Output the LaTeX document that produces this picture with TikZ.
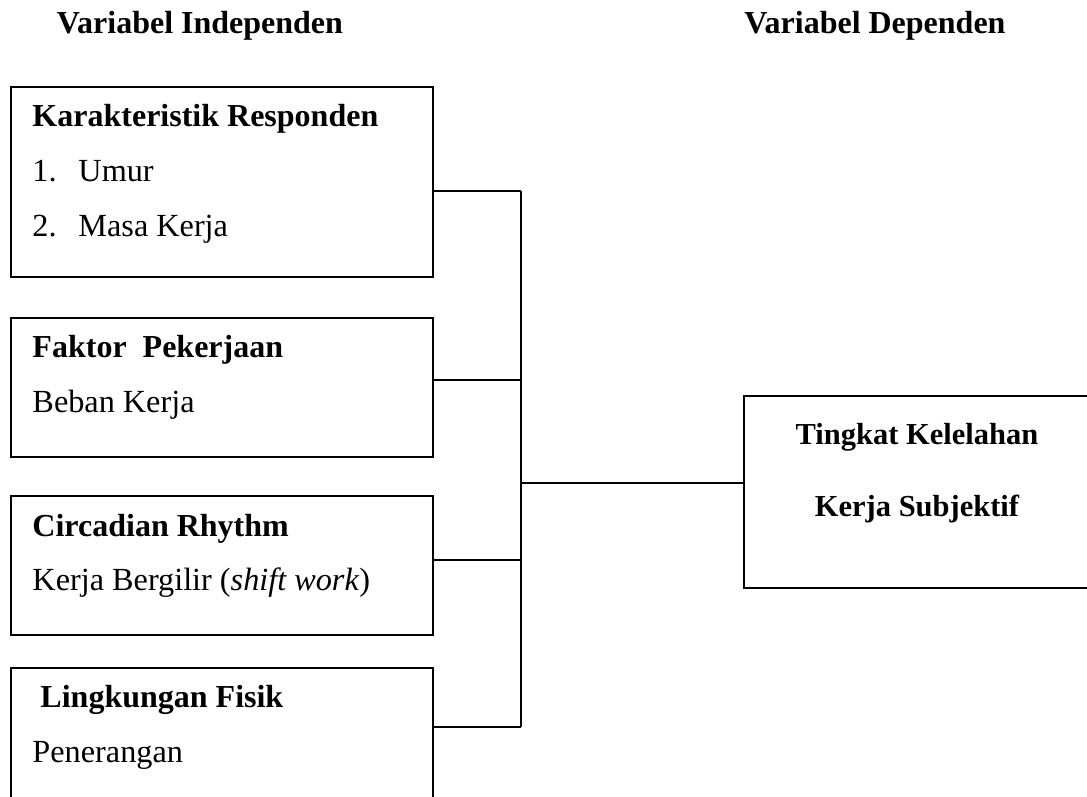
\documentclass[tikz,border=0pt]{standalone}
\usepackage{fontspec}
\setmainfont{Liberation Serif}
\usetikzlibrary{positioning, calc}

\begin{document}
\begin{tikzpicture}[
    x=0.4pt, y=-0.4pt,
    box/.style={
        rectangle,
        draw=black,
        line width=0.8pt,
        minimum width=168.8pt,
        anchor=north west,
        inner sep=0pt
    },
    head/.style={
        font=\fontsize{12.8}{15}\selectfont\bfseries,
        inner sep=0pt,
        anchor=base west
    },
    item/.style={
        font=\fontsize{12.9}{15}\selectfont,
        inner sep=0pt,
        anchor=base west
    },
    line/.style={
        draw=black,
        line width=0.8pt
    }
]
\useasboundingbox (0,0) rectangle (1087,796);
\clip (0,0) rectangle (1087,796);

% Titles
\node[head, anchor=base] (hd-indep) at (200,33) {Variabel Independen};
\node[head, anchor=base] (hd-dep) at (875,33) {Variabel Dependen};

% Independent boxes
\node[box, minimum height=76pt] (resp) at (10,86) {};
\node[box, minimum height=55.6pt] (kerja) at (10,317) {};
\node[box, minimum height=55.6pt] (ritme) at (10,495) {};
\node[box, minimum height=56pt] (fisik) at (10,667) {};

% Box texts
\node[head] (resp-t) at ($(resp.north west)+(22,40)$) {Karakteristik Responden};
\node[item] (resp-a) at ($(resp-t.base west)+(0,55)$) {\makebox[18.4pt][l]{1.}Umur};
\node[item] (resp-b) at ($(resp-a.base west)+(0,55)$) {\makebox[18.4pt][l]{2.}Masa Kerja};

\node[head] (kerja-t) at ($(kerja.north west)+(22,40)$) {Faktor\ \ Pekerjaan};
\node[item] (kerja-a) at ($(kerja-t.base west)+(0,55)$) {Beban Kerja};

\node[head] (ritme-t) at ($(ritme.north west)+(22,41)$) {Circadian Rhythm};
\node[item] (ritme-a) at ($(ritme-t.base west)+(0,54)$) {Kerja Bergilir (\textit{shift work})};

\node[head] (fisik-t) at ($(fisik.north west)+(22,40)$) {\ Lingkungan Fisik};
\node[item] (fisik-a) at ($(fisik-t.base west)+(0,55)$) {Penerangan};

% Dependent box
\node[box, minimum width=139.2pt, minimum height=76.8pt] (lelah) at (743,395) {};
\node[head, anchor=base, font=\fontsize{12.2}{15}\selectfont\bfseries] (lelah-t) at (917,444) {Tingkat Kelelahan};
\node[head, anchor=base, font=\fontsize{12.2}{15}\selectfont\bfseries] (lelah-b) at (917,516) {Kerja Subjektif};

% Junctions
\coordinate (j-resp) at (521,191);
\coordinate (j-kerja) at (521,380);
\coordinate (j-ritme) at (521,560);
\coordinate (j-fisik) at (521,727);
\coordinate (j-out) at (521,483);

% Connectors
\draw[line] (resp.east |- j-resp) -- (j-resp);
\draw[line] (kerja.east |- j-kerja) -- (j-kerja);
\draw[line] (ritme.east |- j-ritme) -- (j-ritme);
\draw[line] (fisik.east |- j-fisik) -- (j-fisik);
\draw[line] (j-resp) -- (j-fisik);
\draw[line] (j-out) -- (lelah.west |- j-out);

\end{tikzpicture}
\end{document}
